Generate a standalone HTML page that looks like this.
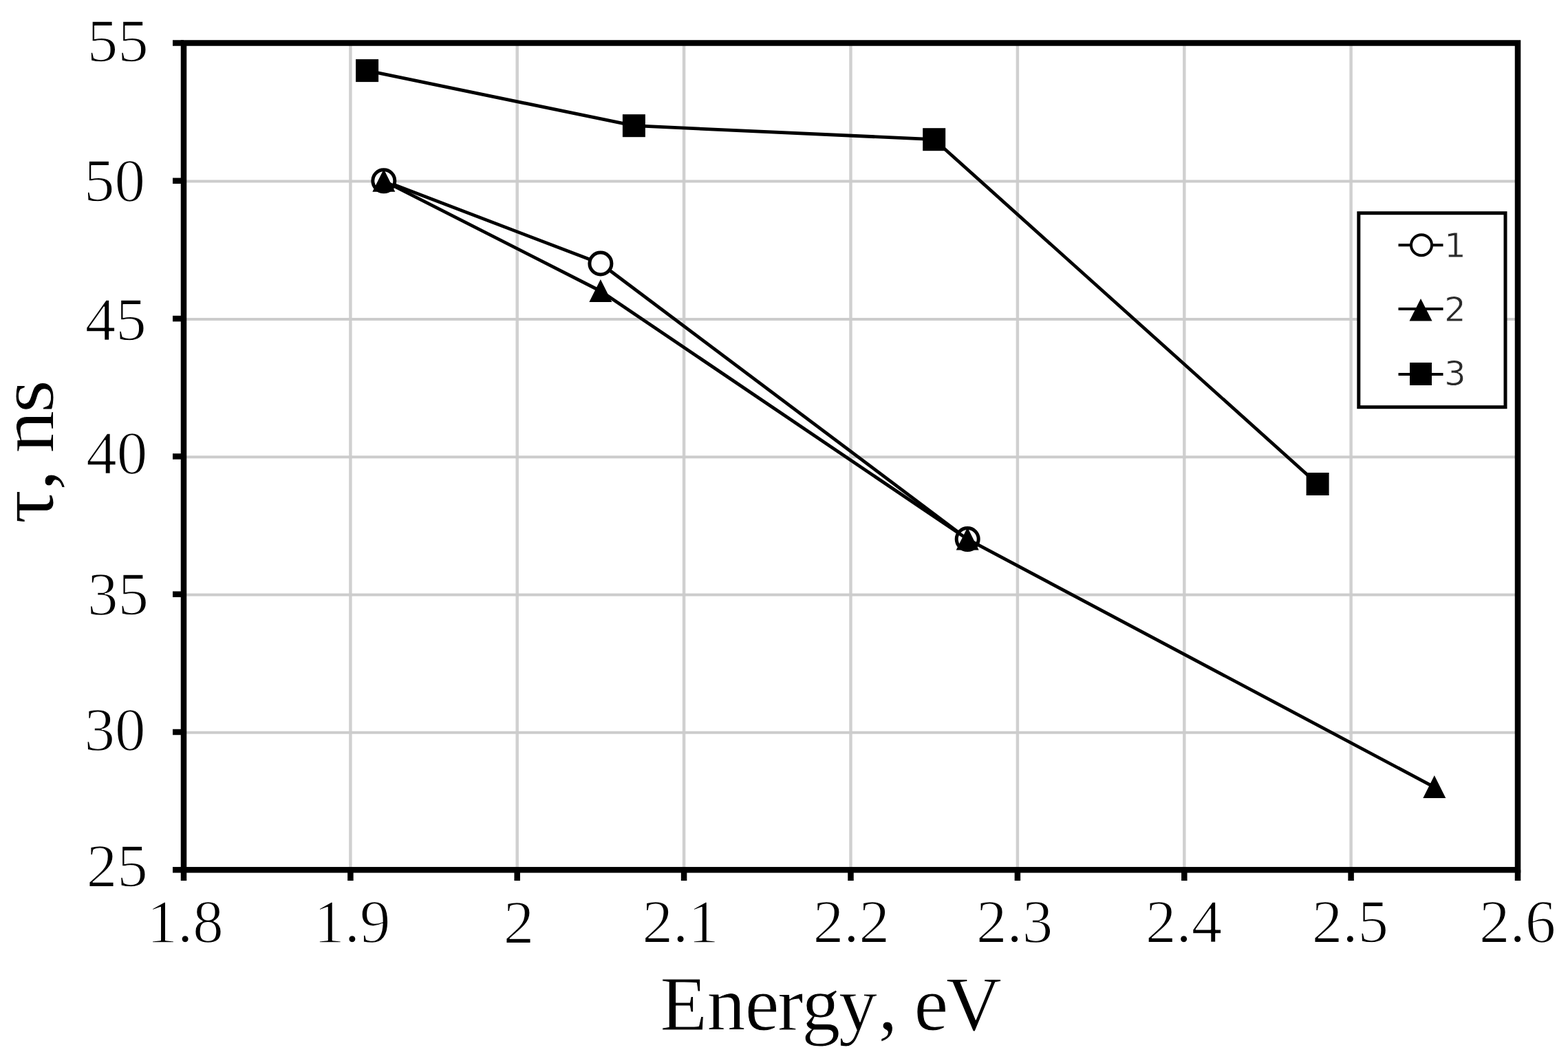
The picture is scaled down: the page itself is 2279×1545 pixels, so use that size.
<!DOCTYPE html>
<html><head><meta charset="utf-8"><title>Lifetime vs energy</title>
<style>html,body{margin:0;padding:0;background:#fff;overflow:hidden;}svg{display:block;}.tk{font-family:"Liberation Serif","Times New Roman",serif;fill:#000;}.thin{stroke:#fff;stroke-width:1.5;stroke-linejoin:round;}.thin2{stroke:#fff;stroke-width:1;stroke-linejoin:round;}.lg{font-family:"DejaVu Sans","Liberation Sans",sans-serif;fill:#2a2a2a;stroke:#fff;stroke-width:0.8;}</style>
</head><body>
<svg width="2279" height="1545" viewBox="0 0 2279 1545">
<rect x="0" y="0" width="2279" height="1545" fill="#fff"/>
<g stroke="#d0d0d0" stroke-width="4.5"><line x1="509.4" y1="62.5" x2="509.4" y2="1264.3"/><line x1="751.7" y1="62.5" x2="751.7" y2="1264.3"/><line x1="994.1" y1="62.5" x2="994.1" y2="1264.3"/><line x1="1236.5" y1="62.5" x2="1236.5" y2="1264.3"/><line x1="1478.9" y1="62.5" x2="1478.9" y2="1264.3"/><line x1="1721.3" y1="62.5" x2="1721.3" y2="1264.3"/><line x1="1963.6" y1="62.5" x2="1963.6" y2="1264.3"/></g>
<g stroke="#cccccc" stroke-width="4"><line x1="267.0" y1="263.6" x2="2206.0" y2="263.6"/><line x1="267.0" y1="463.9" x2="2206.0" y2="463.9"/><line x1="267.0" y1="664.2" x2="2206.0" y2="664.2"/><line x1="267.0" y1="864.5" x2="2206.0" y2="864.5"/><line x1="267.0" y1="1064.8" x2="2206.0" y2="1064.8"/></g>
<g stroke="#000" stroke-width="8.5" stroke-linecap="butt"><line x1="251" y1="62.5" x2="267.0" y2="62.5"/><line x1="251" y1="262.8" x2="267.0" y2="262.8"/><line x1="251" y1="463.1" x2="267.0" y2="463.1"/><line x1="251" y1="663.4" x2="267.0" y2="663.4"/><line x1="251" y1="863.7" x2="267.0" y2="863.7"/><line x1="251" y1="1064.0" x2="267.0" y2="1064.0"/><line x1="251" y1="1264.3" x2="267.0" y2="1264.3"/><line x1="267.0" y1="1264.3" x2="267.0" y2="1280"/><line x1="509.4" y1="1264.3" x2="509.4" y2="1280"/><line x1="751.7" y1="1264.3" x2="751.7" y2="1280"/><line x1="994.1" y1="1264.3" x2="994.1" y2="1280"/><line x1="1236.5" y1="1264.3" x2="1236.5" y2="1280"/><line x1="1478.9" y1="1264.3" x2="1478.9" y2="1280"/><line x1="1721.3" y1="1264.3" x2="1721.3" y2="1280"/><line x1="1963.6" y1="1264.3" x2="1963.6" y2="1280"/><line x1="2206.0" y1="1264.3" x2="2206.0" y2="1280"/></g>
<rect x="267.0" y="62.5" width="1939.0" height="1201.8" fill="none" stroke="#000" stroke-width="8.5"/>
<polyline points="557.8,262.8 872.9,383.0 1406.2,783.6" fill="none" stroke="#000" stroke-width="4.8" stroke-linejoin="round"/>
<circle cx="557.8" cy="262.8" r="16" fill="#fff" stroke="#000" stroke-width="5"/><circle cx="872.9" cy="383.0" r="16" fill="#fff" stroke="#000" stroke-width="5"/><circle cx="1406.2" cy="783.6" r="16" fill="#fff" stroke="#000" stroke-width="5"/>
<polyline points="557.8,262.8 872.9,423.0 1406.2,783.6 2084.8,1144.1" fill="none" stroke="#000" stroke-width="4.8" stroke-linejoin="round"/>
<polygon points="557.8,245.8 574.3,278.8 541.3,278.8" fill="#000"/><polygon points="872.9,406.0 889.4,439.0 856.4,439.0" fill="#000"/><polygon points="1406.2,766.6 1422.7,799.6 1389.7,799.6" fill="#000"/><polygon points="2084.8,1127.1 2101.3,1160.1 2068.3,1160.1" fill="#000"/>
<polyline points="533.6,102.6 921.4,182.7 1357.7,202.7 1915.1,703.5" fill="none" stroke="#000" stroke-width="4.8" stroke-linejoin="round"/>
<rect x="517.1" y="86.1" width="33" height="33" fill="#000"/><rect x="904.9" y="166.2" width="33" height="33" fill="#000"/><rect x="1341.2" y="186.2" width="33" height="33" fill="#000"/><rect x="1898.6" y="687.0" width="33" height="33" fill="#000"/>
<g class="tk thin" font-size="89"><text x="126.7" y="89.4">55</text><text x="122.1" y="292.2">50</text><text x="123.8" y="494.3">45</text><text x="125.3" y="687.7">40</text><text x="127.0" y="893.2">35</text><text x="122.6" y="1089.5">30</text><text x="125.8" y="1288.3">25</text></g>
<g class="tk thin" font-size="89"><text x="213.5" y="1369.4">1.8</text><text x="456.2" y="1369.2">1.9</text><text x="731.7" y="1369.9">2</text><text x="933.4" y="1369.2">2.1</text><text x="1181.7" y="1369.2">2.2</text><text x="1418.9" y="1369.2">2.3</text><text x="1664.9" y="1369.2">2.4</text><text x="1906.8" y="1369.2">2.5</text><text x="2149.9" y="1369.2">2.6</text></g>
<text class="tk thin2" font-size="112" x="959.6 1027.5 1082.7 1130.3 1165.2 1219.1 1276.4 1304.4 1328.4 1374.9" y="1497.2">Energy, eV</text>
<text class="tk thin2" font-size="124" transform="translate(76.8,760.0) rotate(-90) scale(1,0.92)" x="-1.4 46.8 77.8 101.2 159.8" y="0">τ, ns</text>
<rect x="1974.8" y="309.7" width="213.2" height="282" fill="#fff" stroke="#000" stroke-width="5"/>
<line x1="2032.5" y1="356.3" x2="2097.5" y2="356.3" stroke="#000" stroke-width="4"/>
<circle cx="2066" cy="356.3" r="15" fill="#fff" stroke="#000" stroke-width="4"/>
<text class="lg" font-size="50" x="2099" y="373.7">1</text>
<line x1="2032.5" y1="449.0" x2="2097.5" y2="449.0" stroke="#000" stroke-width="4"/>
<polygon points="2065,434 2081.5,466.5 2048.5,466.5" fill="#000"/>
<text class="lg" font-size="50" x="2099" y="466.6">2</text>
<line x1="2032.5" y1="544.0" x2="2097.5" y2="544.0" stroke="#000" stroke-width="4"/>
<rect x="2049" y="527" width="32" height="33" fill="#000"/>
<text class="lg" font-size="50" x="2099" y="560.3">3</text>
</svg></body></html>
